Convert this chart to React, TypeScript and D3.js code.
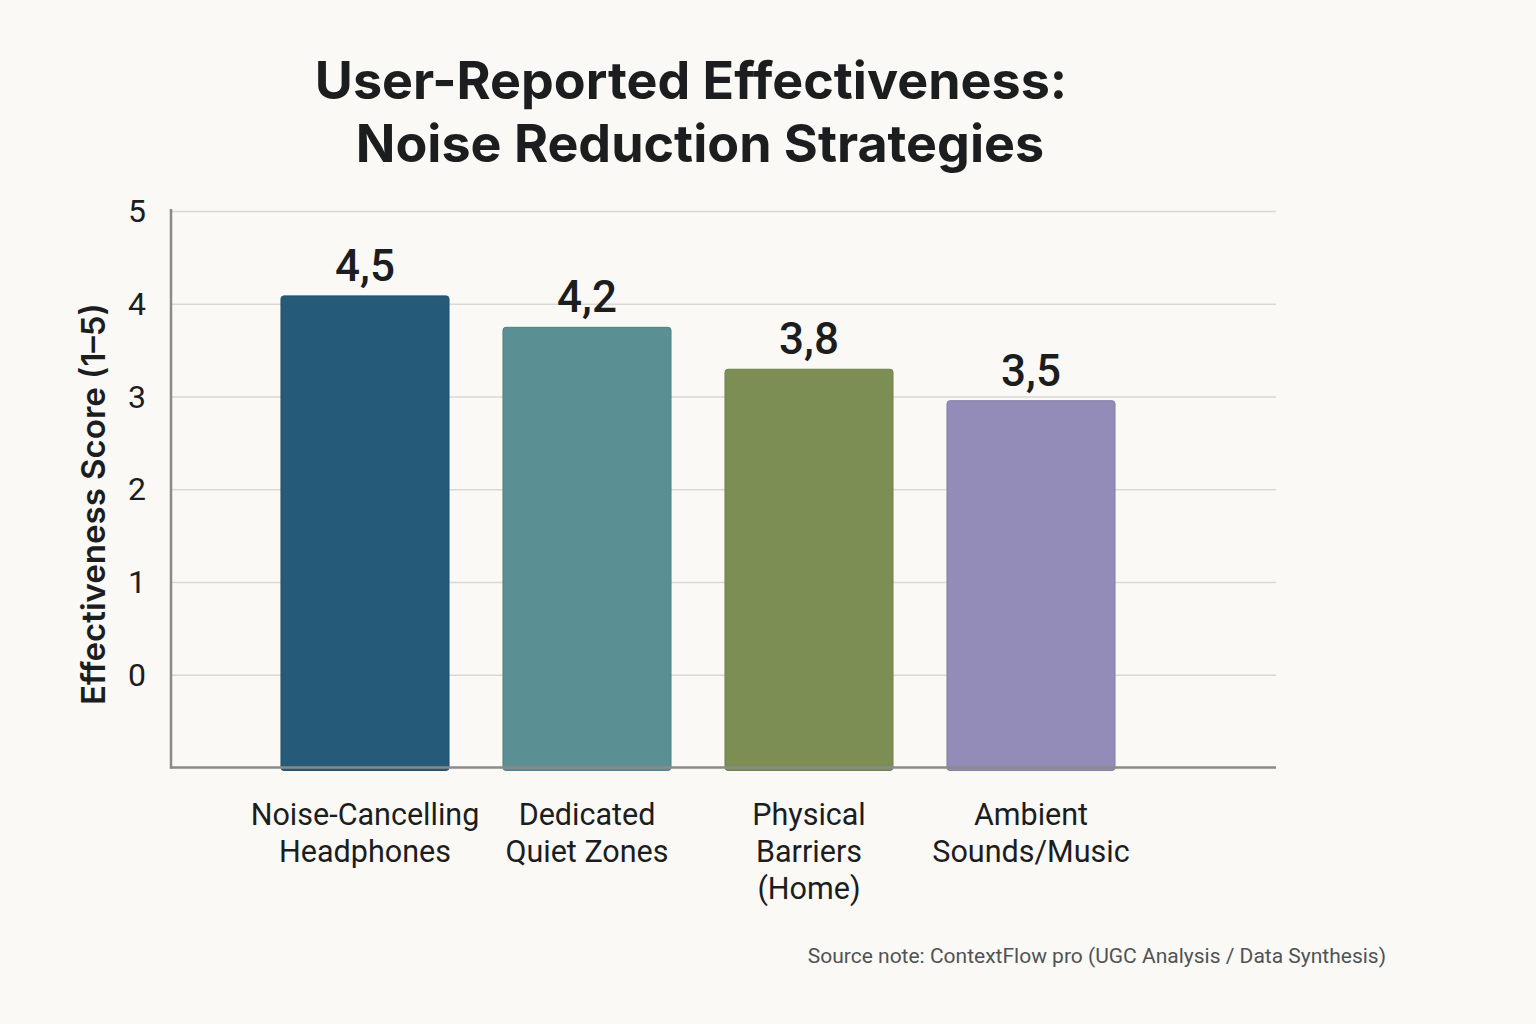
import * as d3 from "d3";
import { useEffect, useRef } from "react";

const categories = [
  ["Noise-Cancelling", "Headphones"],
  ["Dedicated", "Quiet Zones"],
  ["Physical", "Barriers", "(Home)"],
  ["Ambient", "Sounds/Music"],
];
const scores = [4.5, 4.2, 3.8, 3.5];
const valueLabels = ["4,5", "4,2", "3,8", "3,5"];
const barColors = ["#255a79", "#5a9094", "#7d8e55", "#938bb8"];
const tickValues = [0, 1, 2, 3, 4, 5];

export default function App() {
  const ref = useRef<SVGSVGElement>(null);

  useEffect(() => {
    if (!ref.current) return;
    document.body.style.margin = "0";
    const el = ref.current;
    d3.select(el).selectAll("*").remove();

    const W = 1536;
    const H = 1024;
    const left = 171;
    const right = 1276;
    const top = 211;
    const base = 767.5;
    const ink = "#1b1d1f";
    const grid = "#d9d9d3";
    const axis = "#8a8a86";
    const sans = "Roboto, 'Noto Sans', sans-serif";

    const svg = d3.select(el).attr("viewBox", `0 0 ${W} ${H}`);
    svg.append("rect").attr("width", W).attr("height", H).attr("fill", "#faf9f5");

    // Title
    const title = svg
      .append("text")
      .attr("text-anchor", "middle")
      .attr("fill", ink)
      .attr("font-family", "Inter, Roboto, sans-serif")
      .attr("font-weight", 700)
      .attr("font-size", 52);
    title.append("tspan").attr("x", 691).attr("y", 99).text("User-Reported Effectiveness:");
    title.append("tspan").attr("x", 700).attr("y", 162).text("Noise Reduction Strategies");

    // gridlines sit one step below the labelled 0, bars use their own scale
    const gridY = d3.scaleLinear().domain([-1, 5]).range([base, top]);
    const y = d3.scaleLinear().domain([0, 5.31]).range([base, top]);
    const x = d3
      .scaleBand()
      .domain(categories.map(c => c.join(" ")))
      .range([254, 1142])
      .paddingInner(0.243)
      .paddingOuter(0.1215);

    svg
      .append("g")
      .attr("transform", `translate(${left},0)`)
      .call(
        d3
          .axisLeft(gridY)
          .tickValues(tickValues)
          .tickSize(-(right - left))
          .tickFormat(() => ""),
      )
      .call(gg => gg.select(".domain").remove())
      .call(gg => gg.selectAll("line").attr("stroke", grid).attr("stroke-width", 1.6));

    // tick labels
    svg
      .append("g")
      .selectAll("text")
      .data(tickValues)
      .join("text")
      .attr("x", 146)
      .attr("y", d => gridY(d) + 11)
      .attr("text-anchor", "end")
      .attr("fill", ink)
      .attr("font-family", sans)
      .attr("font-size", 32)
      .text(d => d);

    // bars
    svg
      .append("g")
      .selectAll("rect")
      .data(scores)
      .join("rect")
      .attr("x", (_, i) => x(categories[i].join(" "))!)
      .attr("y", d => y(d))
      .attr("width", x.bandwidth())
      .attr("height", d => base - y(d) + 3)
      .attr("rx", 3)
      .attr("fill", (_, i) => barColors[i])
      .attr("stroke", (_, i) => d3.color(barColors[i])!.darker(0.3).toString())
      .attr("stroke-width", 1);

    // value labels
    svg
      .append("g")
      .selectAll("text")
      .data(scores)
      .join("text")
      .attr("x", (_, i) => x(categories[i].join(" "))! + x.bandwidth() / 2)
      .attr("y", d => y(d) - 15)
      .attr("text-anchor", "middle")
      .attr("fill", ink)
      .attr("font-family", sans)
      .attr("font-weight", 500)
      .attr("font-size", 44)
      .text((_, i) => valueLabels[i]);

    // axis lines
    svg
      .append("line")
      .attr("x1", left)
      .attr("x2", left)
      .attr("y1", top - 2)
      .attr("y2", base + 1)
      .attr("stroke", axis)
      .attr("stroke-width", 2.5);
    svg
      .append("line")
      .attr("x1", left - 1)
      .attr("x2", right)
      .attr("y1", base)
      .attr("y2", base)
      .attr("stroke", axis)
      .attr("stroke-width", 2.5);

    // category labels
    const cat = svg
      .append("g")
      .selectAll("text")
      .data(categories)
      .join("text")
      .attr("text-anchor", "middle")
      .attr("fill", ink)
      .attr("font-family", sans)
      .attr("font-size", 30.5);
    cat
      .selectAll("tspan")
      .data(d => d)
      .join("tspan")
      .attr("x", function () {
        const parent = (this as SVGTSpanElement).parentNode as SVGTextElement;
        const d = d3.select(parent).datum() as string[];
        return x(d.join(" "))! + x.bandwidth() / 2;
      })
      .attr("y", (_, i) => 825 + i * 37)
      .text(d => d);

    // y axis title
    svg
      .append("text")
      .attr("transform", `translate(105,504) rotate(-90)`)
      .attr("text-anchor", "middle")
      .attr("fill", ink)
      .attr("font-family", "Inter, Roboto, sans-serif")
      .attr("font-weight", 600)
      .attr("font-size", 33)
      .text("Effectiveness Score (1–5)");

    // source note
    svg
      .append("text")
      .attr("x", 1386)
      .attr("y", 963)
      .attr("text-anchor", "end")
      .attr("fill", "#505356")
      .attr("font-family", sans)
      .attr("font-size", 21)
      .text("Source note: ContextFlow pro (UGC Analysis / Data Synthesis)");
  }, []);

  return <svg ref={ref} width={1536} height={1024} style={{ display: "block" }} />;
}
